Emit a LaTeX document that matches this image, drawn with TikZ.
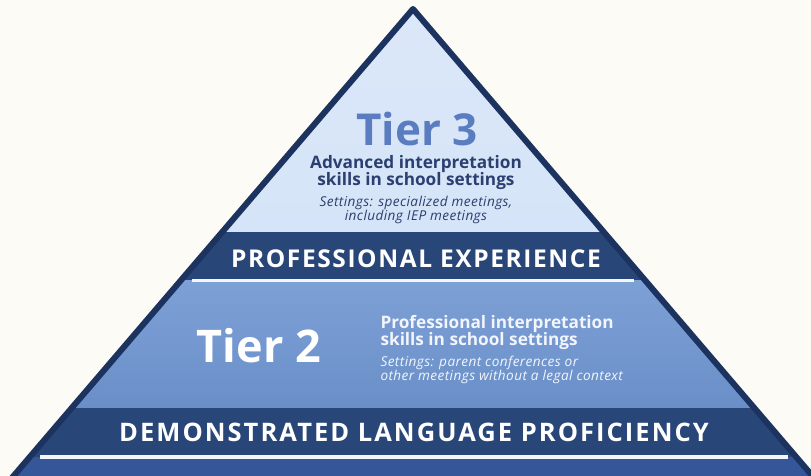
\documentclass[tikz,border=0pt]{standalone}
\usepackage{fontspec}
\setmainfont{Open Sans}
\definecolor{bg}{HTML}{FCFBF6}
\definecolor{outl}{HTML}{1D335F}
\definecolor{tthree}{HTML}{D5E4F8}
\definecolor{tthreetop}{HTML}{DCE8F9}
\definecolor{titleblue}{HTML}{5A7CC0}
\definecolor{navytext}{HTML}{2B3F70}
\definecolor{band}{HTML}{294678}
\definecolor{ttwotop}{HTML}{7DA0D6}
\definecolor{ttwobot}{HTML}{6A8FC8}
\definecolor{lowfill}{HTML}{35579A}
\definecolor{sepline}{HTML}{F4F6FB}
\definecolor{lighttext}{HTML}{F2F5FB}
\tikzset{
  tiertitle/.style={font=\bfseries\fontsize{44}{44}\selectfont, anchor=base},
  desc/.style={font=\bfseries\fontsize{17.2}{18}\selectfont, anchor=base},
  sett/.style={font=\itshape\fontsize{13.6}{14}\selectfont\addfontfeatures{LetterSpace=3}, anchor=base},
  petext/.style={font=\bfseries\fontsize{24.5}{24}\selectfont\addfontfeatures{LetterSpace=6.5}, text=white, anchor=base},
  dlptext/.style={font=\bfseries\fontsize{25.5}{25}\selectfont\addfontfeatures{LetterSpace=8}, text=white, anchor=base},
}
\begin{document}
\begin{tikzpicture}[x=1pt,y=-1pt]
\useasboundingbox (0,0) rectangle (811,476);
\fill[bg] (0,0) rectangle (811,476);
\begin{scope}
\clip (0,0) rectangle (811,476);
\coordinate (apex) at (413,9);
\coordinate (bl) at (-7,500);
\coordinate (br) at (833,500);
\begin{scope}
\clip (apex) -- (bl) -- (br) -- cycle;
\shade[top color=tthreetop, bottom color=tthree] (0,0) rectangle (811,232);
\fill[band] (0,232) rectangle (811,280);
\shade[top color=ttwotop, bottom color=ttwobot] (0,280) rectangle (811,408);
\fill[band] (0,408) rectangle (811,457);
\fill[lowfill] (0,457) rectangle (811,500);
\end{scope}
\coordinate (s1l) at (192,280.3);
\coordinate (s1r) at (634,280.3);
\coordinate (s2l) at (40,456.8);
\coordinate (s2r) at (788,456.8);
\draw[sepline, line width=3.5pt] (s1l) -- (s1r);
\draw[sepline, line width=3.5pt] (s2l) -- (s2r);
\draw[outl, line width=6pt, line join=round] (bl) -- (apex) -- (br);
\end{scope}
\node[tiertitle, text=titleblue] (t3title) at (417,146) {Tier 3};
\node[desc, text=navytext] (t3a) at (416,168) {Advanced interpretation};
\node[desc, text=navytext] (t3b) at (416,185) {skills in school settings};
\node[sett, text=navytext] (t3c) at (416,206) {Settings: specialized meetings,};
\node[sett, text=navytext] (t3d) at (416,220) {including IEP meetings};
\node[petext] (pe) at (416,267) {PROFESSIONAL EXPERIENCE};
\node[tiertitle, text=white, font=\bfseries\fontsize{45}{45}\selectfont] (t2title) at (259,362) {Tier 2};
\node[desc, text=lighttext, anchor=base west] (t2a) at (377,328) {Professional interpretation};
\node[desc, text=lighttext, anchor=base west] (t2b) at (377,345) {skills in school settings};
\node[sett, text=lighttext, anchor=base west] (t2c) at (377,366) {Settings: parent conferences or};
\node[sett, text=lighttext, anchor=base west] (t2d) at (377,380) {other meetings without a legal context};
\node[dlptext] (dlp) at (414,441) {DEMONSTRATED LANGUAGE PROFICIENCY};
\end{tikzpicture}
\end{document}
